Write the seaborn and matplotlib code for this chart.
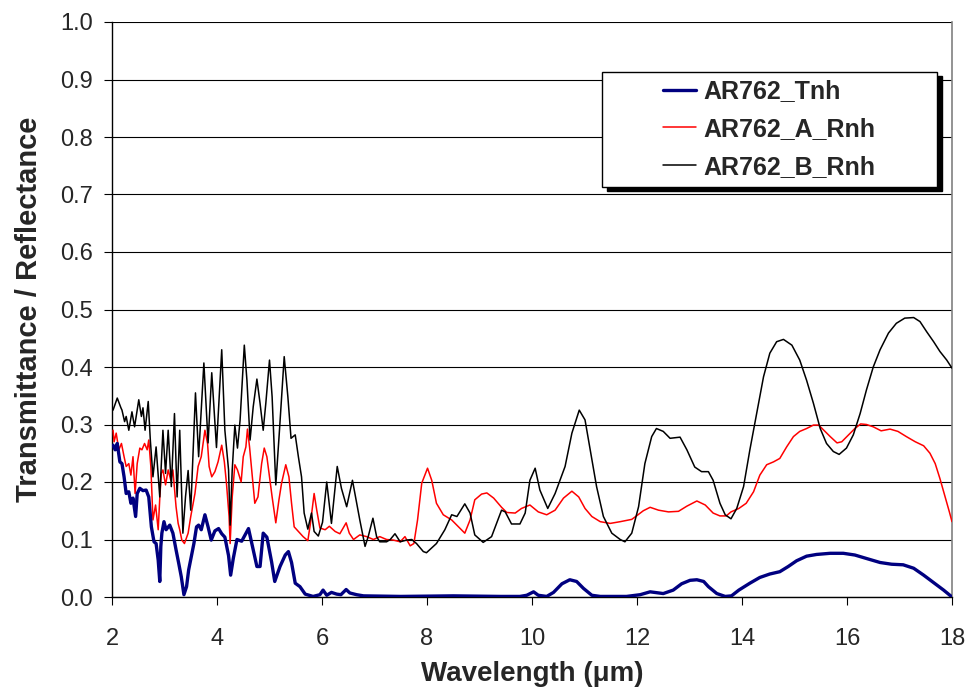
import numpy as np
import pandas as pd
import seaborn as sns
import matplotlib.pyplot as plt
from matplotlib.patches import Rectangle

wl_t = [2.02, 2.06, 2.10, 2.15, 2.19, 2.23, 2.27, 2.32, 2.36, 2.40, 2.45, 2.48, 2.53, 2.59, 2.65,
        2.70, 2.75, 2.80, 2.84, 2.88, 2.91, 2.93, 2.95, 2.99, 3.03, 3.10, 3.16, 3.22, 3.27, 3.32,
        3.37, 3.42, 3.46, 3.51, 3.56, 3.61, 3.65, 3.70, 3.77, 3.83, 3.89, 3.96, 4.03, 4.09, 4.15,
        4.22, 4.26, 4.31, 4.38, 4.47, 4.60, 4.69, 4.76, 4.82, 4.88, 4.95, 5.04, 5.10, 5.20, 5.30,
        5.36, 5.42, 5.49, 5.58, 5.68, 5.83, 5.96, 6.02, 6.09, 6.18, 6.28, 6.36, 6.46, 6.53, 6.66,
        6.79, 7.5, 8.5, 9.4, 9.77, 9.90, 10.03, 10.12, 10.28, 10.41, 10.57, 10.72, 10.85, 10.98,
        11.14, 11.30, 11.80, 12.06, 12.25, 12.50, 12.69, 12.85, 13.01, 13.14, 13.27, 13.36, 13.52,
        13.68, 13.80, 13.94, 14.15, 14.34, 14.53, 14.72, 14.88, 15.04, 15.23, 15.42, 15.68, 15.93,
        16.15, 16.37, 16.63, 16.85, 17.07, 17.27, 17.46, 17.65, 17.84, 18.0]
t_nh = [0.264, 0.256, 0.267, 0.235, 0.232, 0.209, 0.18, 0.183, 0.163, 0.172, 0.14, 0.18, 0.189, 0.185, 0.186,
        0.174, 0.122, 0.096, 0.093, 0.064, 0.027, 0.088, 0.111, 0.131, 0.117, 0.125, 0.111, 0.082, 0.059, 0.035,
        0.004, 0.018, 0.047, 0.07, 0.093, 0.122, 0.125, 0.117, 0.143, 0.122, 0.099, 0.115, 0.119, 0.11, 0.104,
        0.072, 0.038, 0.067, 0.1, 0.097, 0.119, 0.082, 0.053, 0.053, 0.111, 0.104, 0.061, 0.027, 0.053, 0.073,
        0.079, 0.06, 0.024, 0.018, 0.005, 0.001, 0.004, 0.012, 0.003, 0.008, 0.005, 0.004, 0.013, 0.007, 0.004,
        0.002, 0.001, 0.002, 0.001, 0.001, 0.003, 0.009, 0.003, 0.001, 0.008, 0.023, 0.03, 0.027, 0.015,
        0.003, 0.001, 0.001, 0.004, 0.009, 0.006, 0.012, 0.023, 0.029, 0.03, 0.027, 0.018, 0.006,
        0.001, 0.002, 0.012, 0.024, 0.034, 0.04, 0.044, 0.053, 0.063, 0.071, 0.074, 0.076, 0.076,
        0.073, 0.067, 0.06, 0.057, 0.056, 0.05, 0.038, 0.025, 0.012, 0.0]

wl_a = [2.02, 2.04, 2.08, 2.13, 2.18, 2.23, 2.27, 2.32, 2.36, 2.40, 2.44, 2.48, 2.53, 2.57, 2.62,
        2.67, 2.70, 2.74, 2.78, 2.83, 2.88, 2.91, 2.94, 2.97, 3.02, 3.07, 3.12, 3.16, 3.22, 3.26,
        3.29, 3.33, 3.38, 3.45, 3.50, 3.58, 3.64, 3.70, 3.77, 3.82, 3.85, 3.90, 3.96, 4.02, 4.09,
        4.14, 4.18, 4.23, 4.25, 4.29, 4.34, 4.39, 4.46, 4.50, 4.55, 4.58, 4.62, 4.66, 4.72, 4.78,
        4.85, 4.90, 4.95, 5.00, 5.05, 5.12, 5.18, 5.23, 5.31, 5.37, 5.42, 5.47, 5.55, 5.64, 5.73,
        5.78, 5.85, 5.90, 5.96, 6.06, 6.14, 6.25, 6.34, 6.46, 6.52, 6.60, 6.72, 6.85, 6.98, 7.10,
        7.23, 7.36, 7.49, 7.58, 7.68, 7.75, 7.82, 7.90, 8.01, 8.09, 8.18, 8.31, 8.47, 8.60, 8.72,
        8.82, 8.91, 9.04, 9.14, 9.27, 9.42, 9.52, 9.68, 9.80, 9.96, 10.12, 10.28, 10.44, 10.60,
        10.76, 10.89, 11.01, 11.14, 11.30, 11.49, 11.68, 11.90, 11.99, 12.12, 12.25, 12.41, 12.60,
        12.79, 12.95, 13.14, 13.30, 13.45, 13.58, 13.70, 13.79, 13.94, 14.08, 14.22, 14.34, 14.47,
        14.60, 14.72, 14.85, 14.98, 15.10, 15.23, 15.36, 15.46, 15.56, 15.68, 15.81, 15.90, 16.03,
        16.15, 16.26, 16.37, 16.50, 16.65, 16.82, 16.97, 17.13, 17.30, 17.46, 17.58, 17.68, 17.77,
        17.87, 17.95, 18.0]
a_rnh = [0.29, 0.27, 0.285, 0.256, 0.267, 0.244, 0.227, 0.232, 0.212, 0.244, 0.18, 0.232, 0.259, 0.256, 0.267,
         0.256, 0.273, 0.227, 0.134, 0.16, 0.117, 0.172, 0.215, 0.221, 0.195, 0.221, 0.203, 0.221, 0.157, 0.128,
         0.117, 0.099, 0.093, 0.111, 0.14, 0.18, 0.227, 0.244, 0.29, 0.267, 0.227, 0.209, 0.218, 0.235, 0.264,
         0.235, 0.198, 0.14, 0.093, 0.174, 0.23, 0.221, 0.2, 0.244, 0.261, 0.292, 0.261, 0.221, 0.163, 0.174,
         0.232, 0.259, 0.244, 0.209, 0.174, 0.129, 0.169, 0.198, 0.23, 0.209, 0.163, 0.122, 0.114, 0.105, 0.098,
         0.128, 0.18, 0.151, 0.12, 0.117, 0.123, 0.114, 0.11, 0.129, 0.111, 0.1, 0.108, 0.105, 0.1, 0.105,
         0.1, 0.099, 0.096, 0.105, 0.089, 0.093, 0.134, 0.198, 0.224, 0.203, 0.163, 0.143, 0.134, 0.122, 0.111,
         0.134, 0.169, 0.179, 0.181, 0.172, 0.156, 0.147, 0.146, 0.154, 0.16, 0.148, 0.143, 0.151, 0.172,
         0.184, 0.174, 0.154, 0.14, 0.131, 0.128, 0.131, 0.135, 0.141, 0.15, 0.156, 0.151, 0.148,
         0.149, 0.158, 0.167, 0.16, 0.146, 0.141, 0.141, 0.148, 0.154, 0.163, 0.183, 0.212, 0.23,
         0.235, 0.241, 0.261, 0.279, 0.288, 0.293, 0.299, 0.299, 0.29, 0.279, 0.268, 0.27, 0.282,
         0.293, 0.301, 0.3, 0.296, 0.289, 0.292, 0.288, 0.279, 0.27, 0.263, 0.25, 0.232, 0.206,
         0.174, 0.148, 0.131]

wl_b = [2.02, 2.10, 2.17, 2.19, 2.24, 2.27, 2.32, 2.38, 2.43, 2.51, 2.56, 2.59, 2.63, 2.69, 2.73,
        2.78, 2.84, 2.91, 2.97, 3.02, 3.07, 3.13, 3.19, 3.24, 3.29, 3.35, 3.40, 3.45, 3.50, 3.59,
        3.65, 3.75, 3.83, 3.90, 3.99, 4.09, 4.15, 4.22, 4.25, 4.29, 4.34, 4.39, 4.44, 4.52, 4.57,
        4.63, 4.69, 4.76, 4.82, 4.88, 4.93, 5.00, 5.05, 5.12, 5.19, 5.28, 5.35, 5.41, 5.49, 5.55,
        5.61, 5.66, 5.73, 5.80, 5.85, 5.93, 6.01, 6.09, 6.18, 6.29, 6.37, 6.47, 6.58, 6.66, 6.72,
        6.82, 6.88, 6.97, 7.04, 7.10, 7.23, 7.30, 7.39, 7.49, 7.61, 7.71, 7.80, 7.93, 7.99, 8.18,
        8.34, 8.47, 8.57, 8.72, 8.82, 8.91, 9.07, 9.23, 9.42, 9.49, 9.61, 9.77, 9.87, 9.96, 10.06,
        10.15, 10.30, 10.44, 10.63, 10.76, 10.90, 11.01, 11.10, 11.23, 11.36, 11.52, 11.68, 11.77,
        11.90, 12.03, 12.15, 12.28, 12.37, 12.50, 12.63, 12.82, 12.95, 13.10, 13.23, 13.36, 13.45,
        13.58, 13.68, 13.79, 13.90, 14.03, 14.15, 14.28, 14.41, 14.53, 14.66, 14.79, 14.95, 15.10,
        15.23, 15.36, 15.49, 15.61, 15.74, 15.85, 15.99, 16.12, 16.25, 16.37, 16.50, 16.63, 16.79,
        16.94, 17.10, 17.27, 17.39, 17.52, 17.65, 17.77, 17.90, 18.0]
b_rnh = [0.325, 0.346, 0.329, 0.325, 0.305, 0.314, 0.29, 0.322, 0.296, 0.343, 0.314, 0.329, 0.29, 0.34, 0.273,
         0.209, 0.261, 0.174, 0.29, 0.215, 0.29, 0.192, 0.319, 0.174, 0.29, 0.111, 0.174, 0.22, 0.151, 0.355,
         0.244, 0.407, 0.268, 0.39, 0.26, 0.43, 0.29, 0.221, 0.125, 0.221, 0.299, 0.259, 0.308, 0.438, 0.377,
         0.273, 0.331, 0.379, 0.337, 0.29, 0.337, 0.412, 0.348, 0.195, 0.29, 0.418, 0.348, 0.276, 0.282, 0.244,
         0.209, 0.146, 0.118, 0.146, 0.114, 0.106, 0.13, 0.2, 0.128, 0.227, 0.189, 0.157, 0.203, 0.163, 0.134,
         0.088, 0.105, 0.137, 0.105, 0.096, 0.096, 0.1, 0.11, 0.096, 0.099, 0.1, 0.093, 0.079, 0.077, 0.093,
         0.117, 0.143, 0.14, 0.162, 0.146, 0.108, 0.095, 0.105, 0.151, 0.148, 0.127, 0.127, 0.146, 0.203, 0.224,
         0.186, 0.154, 0.18, 0.227, 0.285, 0.325, 0.308, 0.261, 0.192, 0.14, 0.111, 0.1, 0.096,
         0.111, 0.157, 0.232, 0.279, 0.293, 0.288, 0.276, 0.278, 0.256, 0.226, 0.218, 0.218, 0.203,
         0.163, 0.143, 0.136, 0.154, 0.192, 0.256, 0.319, 0.383, 0.424, 0.444, 0.448, 0.438, 0.412,
         0.377, 0.337, 0.293, 0.267, 0.253, 0.248, 0.259, 0.282, 0.319, 0.36, 0.4, 0.43, 0.459,
         0.476, 0.485, 0.486, 0.479, 0.461, 0.444, 0.427, 0.412, 0.398]

sns.set_style('white')
plt.rcParams['font.family'] = ['Liberation Sans', 'DejaVu Sans']

fig = plt.figure(figsize=(9.76, 6.97), dpi=100)
ax = fig.add_axes([112 / 976, 1 - 597 / 697, 840 / 976, 575 / 697])

sns.lineplot(x=wl_t, y=t_nh, ax=ax, color='#000080', lw=2.4, estimator=None, sort=False, zorder=4)
sns.lineplot(x=wl_a, y=a_rnh, ax=ax, color='#FF0000', lw=1.1, estimator=None, sort=False, zorder=3)
sns.lineplot(x=wl_b, y=b_rnh, ax=ax, color='black', lw=1.1, estimator=None, sort=False, zorder=3)

ax.set_xlim(2, 18)
ax.set_ylim(0, 1.0)
ax.set_xticks(range(2, 19, 2))
ax.set_yticks(np.arange(0, 1.01, 0.1))
ax.set_yticklabels([f'{v:.1f}' for v in np.arange(0, 1.01, 0.1)])
ax.yaxis.grid(True, color='black', lw=0.8)
ax.set_axisbelow(True)

ax.tick_params(axis='both', direction='out', length=6, width=0.8, color='black',
               labelsize=17, left=True, bottom=True)
ax.tick_params(axis='y', pad=8)
ax.tick_params(axis='x', pad=16)

for s in ['left', 'bottom']:
    ax.spines[s].set_color('black')
    ax.spines[s].set_linewidth(1)
ax.spines['top'].set_visible(False)
ax.spines['right'].set_color('#808080')
ax.spines['right'].set_linewidth(1.2)

ax.set_xlabel('Wavelength (μm)', fontsize=20, fontweight='bold', labelpad=8)
ax.set_ylabel('Transmittance / Reflectance', fontsize=21, fontweight='bold', labelpad=12)

# legend box with a black drop shadow
bx, by, bw, bh = 0.583, 0.7136, 0.3988, 0.2
ax.add_patch(Rectangle((bx + 0.006, by - 0.007), bw, bh, transform=ax.transAxes,
                       facecolor='black', edgecolor='black', zorder=6, clip_on=False))
ax.add_patch(Rectangle((bx, by), bw, bh, transform=ax.transAxes,
                       facecolor='white', edgecolor='black', lw=1, zorder=7, clip_on=False))

handles = ax.get_lines()[:3]
leg = ax.legend(handles, ['AR762_Tnh', 'AR762_A_Rnh', 'AR762_B_Rnh'],
                loc='center', bbox_to_anchor=(bx + bw / 2, by + bh / 2),
                frameon=False, prop={'weight': 'bold', 'size': 18},
                handlelength=1.35, handletextpad=0.3, labelspacing=0.55)
leg.set_zorder(8)

fig.savefig('out.png', dpi=100)
